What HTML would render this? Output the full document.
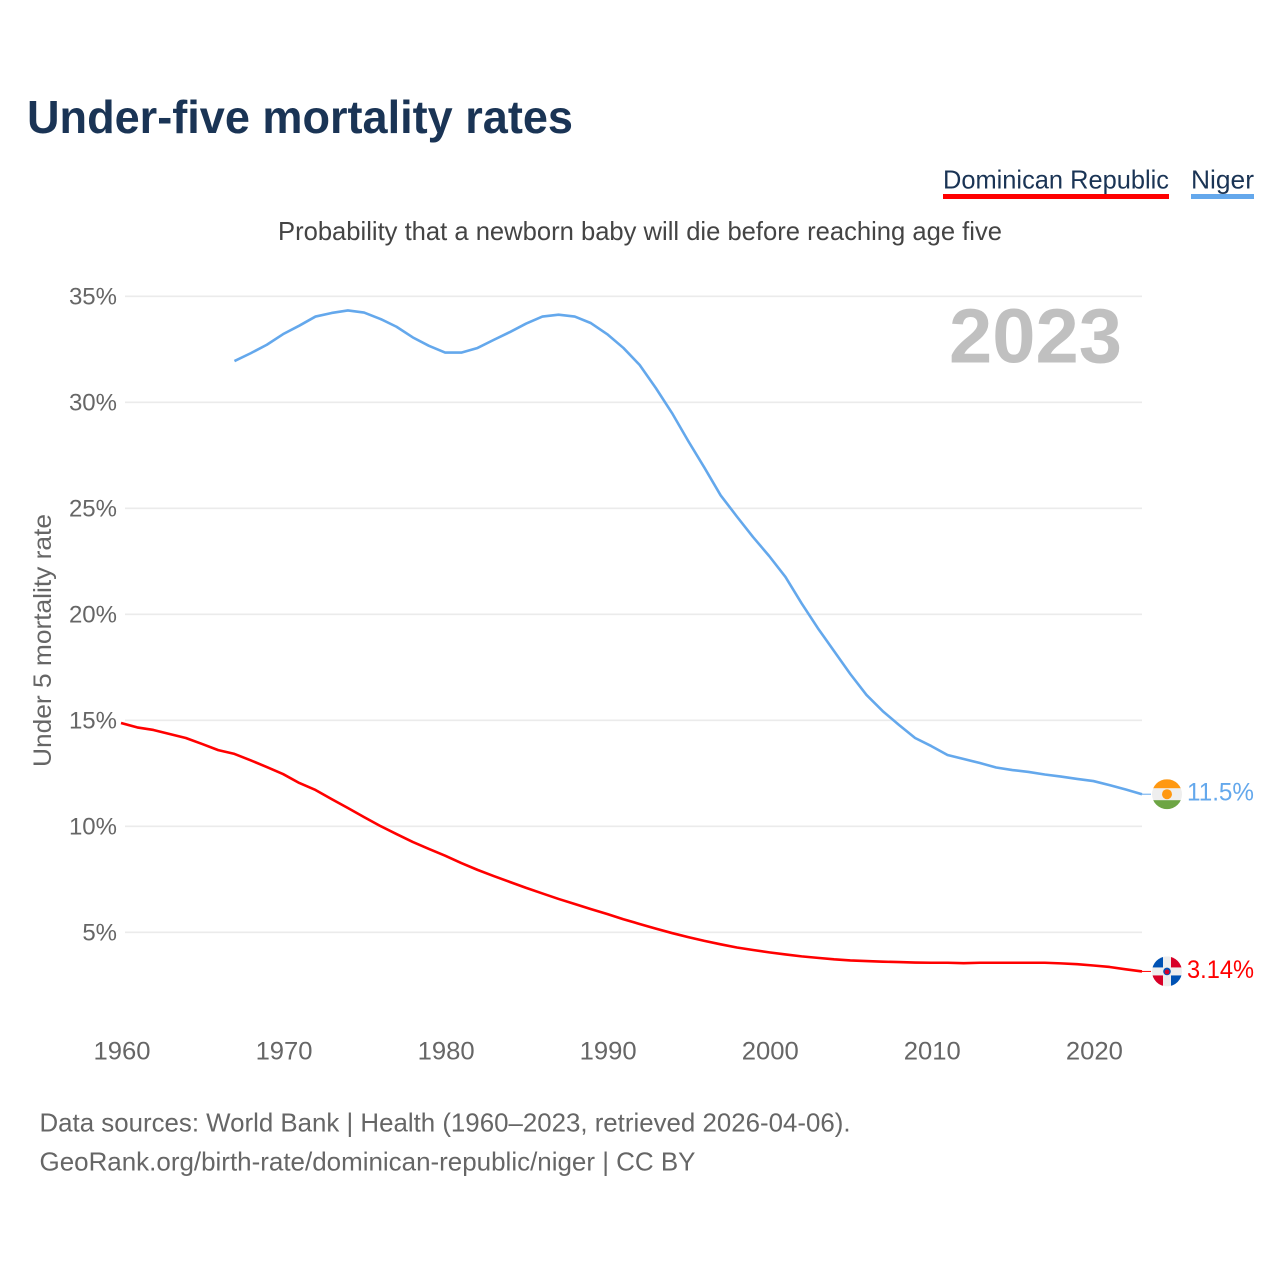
<!DOCTYPE html>
<html lang="en">
<head>
<meta charset="utf-8">
<title>Under-five mortality rates</title>
<style>
  html, body { margin: 0; padding: 0; background: #fff; }
  svg { display: block; font-family: "Liberation Sans", sans-serif; }
</style>
</head>
<body>
<svg id="chart" xmlns="http://www.w3.org/2000/svg" width="1280" height="1280" viewBox="0 0 1280 1280">
  <rect width="1280" height="1280" fill="#fff"/>
  <text x="27" y="133" font-size="46" font-weight="700" fill="#1a3455" textLength="546" lengthAdjust="spacingAndGlyphs">Under-five mortality rates</text>

  <g>
    <text x="943" y="188.5" font-size="26" fill="#1a3455" textLength="226" lengthAdjust="spacingAndGlyphs">Dominican Republic</text>
    <rect x="943" y="194" width="226" height="5" fill="#ff0000"/>
  </g>
  <g>
    <text x="1191" y="188.5" font-size="26" fill="#1a3455" textLength="63" lengthAdjust="spacingAndGlyphs">Niger</text>
    <rect x="1191" y="194" width="63" height="5" fill="#64a8ec"/>
  </g>

  <text x="278" y="240" font-size="26" fill="#444" textLength="724" lengthAdjust="spacingAndGlyphs">Probability that a newborn baby will die before reaching age five</text>
  <text x="949" y="362.5" font-size="77" font-weight="700" fill="#c0c0c0" textLength="173" lengthAdjust="spacingAndGlyphs">2023</text>
  <text transform="translate(51 767) rotate(-90)" font-size="25" fill="#666" textLength="253" lengthAdjust="spacingAndGlyphs">Under 5 mortality rate</text>

  <g id="grid"></g>
  <g id="yticks"></g>
  <g id="xticks"></g>
  <g id="series"></g>
  <g id="ends"></g>

  <text x="39.5" y="1131.5" font-size="26" fill="#666" textLength="811" lengthAdjust="spacingAndGlyphs">Data sources: World Bank | Health (1960–2023, retrieved 2026-04-06).</text>
  <text x="39.5" y="1170.5" font-size="26" fill="#666" textLength="656" lengthAdjust="spacingAndGlyphs">GeoRank.org/birth-rate/dominican-republic/niger | CC BY</text>
</svg>

<script>
const yearStart = 1960;
const yearEnd = 2023;
const yTickValues = [5, 10, 15, 20, 25, 30, 35];
const xTickValues = [1960, 1970, 1980, 1990, 2000, 2010, 2020];

const dominicanYears = [1960,1961,1962,1963,1964,1965,1966,1967,1968,1969,1970,1971,1972,1973,1974,1975,1976,1977,1978,1979,1980,1981,1982,1983,1984,1985,1986,1987,1988,1989,1990,1991,1992,1993,1994,1995,1996,1997,1998,1999,2000,2001,2002,2003,2004,2005,2006,2007,2008,2009,2010,2011,2012,2013,2014,2015,2016,2017,2018,2019,2020,2021,2022,2023];
const dominicanValues = [14.86,14.65,14.53,14.34,14.15,13.87,13.58,13.40,13.10,12.78,12.45,12.03,11.70,11.27,10.85,10.42,10.00,9.62,9.25,8.92,8.60,8.25,7.93,7.64,7.36,7.08,6.82,6.56,6.32,6.08,5.85,5.60,5.38,5.16,4.95,4.76,4.58,4.42,4.27,4.15,4.04,3.94,3.85,3.78,3.71,3.66,3.63,3.60,3.58,3.56,3.55,3.55,3.53,3.55,3.55,3.55,3.55,3.55,3.52,3.48,3.42,3.35,3.24,3.14];

const nigerYears = [1967,1968,1969,1970,1971,1972,1973,1974,1975,1976,1977,1978,1979,1980,1981,1982,1983,1984,1985,1986,1987,1988,1989,1990,1991,1992,1993,1994,1995,1996,1997,1998,1999,2000,2001,2002,2003,2004,2005,2006,2007,2008,2009,2010,2011,2012,2013,2014,2015,2016,2017,2018,2019,2020,2021,2022,2023];
const nigerValues = [31.93,32.30,32.70,33.20,33.60,34.03,34.20,34.32,34.22,33.92,33.55,33.05,32.65,32.33,32.33,32.55,32.93,33.30,33.70,34.03,34.12,34.03,33.72,33.20,32.55,31.75,30.66,29.48,28.16,26.90,25.60,24.60,23.63,22.73,21.75,20.50,19.33,18.25,17.17,16.18,15.42,14.77,14.15,13.77,13.35,13.16,12.97,12.76,12.64,12.55,12.43,12.33,12.22,12.12,11.93,11.72,11.50];

const dominicanLabel = "3.14%";
const nigerLabel = "11.5%";

const NS = "http://www.w3.org/2000/svg";
function xScale(year) { return 121 + (year - yearStart) * (1142 - 121) / (yearEnd - yearStart); }
function yScale(value) { return 296 + (35 - value) * 21.2; }

function make(tag, attrs, parent, text) {
  const el = document.createElementNS(NS, tag);
  for (const k in attrs) el.setAttribute(k, attrs[k]);
  if (text !== undefined) el.textContent = text;
  parent.appendChild(el);
  return el;
}

const gridG = document.getElementById("grid");
const yG = document.getElementById("yticks");
const xG = document.getElementById("xticks");
const seriesG = document.getElementById("series");
const endsG = document.getElementById("ends");

yTickValues.forEach(function (v) {
  const line = make("line", { x1: 125, x2: 1142, y1: yScale(v) + 0.3, y2: yScale(v) + 0.3, stroke: "#ebebeb", "stroke-width": 1.6 }, gridG);
  
  
  const label = make("text", { x: 117, y: yScale(v) + 8.5, "text-anchor": "end", "font-size": 24, fill: "#666" }, yG, v + "%");
  
  
});

xTickValues.forEach(function (yr) {
  const label = make("text", { x: xScale(yr) + 1, y: 1059.5, "text-anchor": "middle", "font-size": 25, fill: "#666", textLength: 57, lengthAdjust: "spacingAndGlyphs" }, xG, String(yr));
  
  
});

function pathFor(years, values) {
  return years.map(function (yr, i) {
    return (i ? "L" : "M") + xScale(yr).toFixed(2) + " " + yScale(values[i]).toFixed(2);
  }).join(" ");
}

const nigerLine = make("path", { d: pathFor(nigerYears, nigerValues), fill: "none", stroke: "#64a8ec", "stroke-width": 2.6, "stroke-linejoin": "round" }, seriesG);



const dominicanLine = make("path", { d: pathFor(dominicanYears, dominicanValues), fill: "none", stroke: "#ff0000", "stroke-width": 2.6, "stroke-linejoin": "round" }, seriesG);



const defs = make("defs", {}, endsG);
const clipPathEl = make("clipPath", { id: "flag-clip" }, defs);
make("circle", { cx: 0, cy: 0, r: 15 }, clipPathEl);

function endMarker(yVal, color, labelText) {
  const cy = yScale(yVal);
  const connector = make("line", { x1: 1142, x2: 1151, y1: cy, y2: cy, stroke: color, "stroke-width": 1 }, endsG);
  
  
  const label = make("text", { x: 1187, y: cy + 6.5, "font-size": 25, fill: color, textLength: 67, lengthAdjust: "spacingAndGlyphs" }, endsG, labelText);
  
  
  return make("g", { transform: "translate(1167 " + cy + ")", "clip-path": "url(#flag-clip)" }, endsG);
}

const nigerFlag = endMarker(nigerValues[nigerValues.length - 1], "#64a8ec", nigerLabel);


make("rect", { x: -15, y: -15, width: 30, height: 30, fill: "#eeeeee" }, nigerFlag);
make("rect", { x: -15, y: -15, width: 30, height: 9, fill: "#ff9811" }, nigerFlag);
make("rect", { x: -15, y: 6, width: 30, height: 9, fill: "#6da544" }, nigerFlag);
make("circle", { cx: 0, cy: 0, r: 5, fill: "#ff9811" }, nigerFlag);

const dominicanFlag = endMarker(dominicanValues[dominicanValues.length - 1], "#ff0000", dominicanLabel);


make("rect", { x: -15, y: -15, width: 30, height: 30, fill: "#eeeeee" }, dominicanFlag);
make("rect", { x: -15, y: -15, width: 11, height: 11, fill: "#0052b4" }, dominicanFlag);
make("rect", { x: 4, y: -15, width: 11, height: 11, fill: "#d80027" }, dominicanFlag);
make("rect", { x: -15, y: 4, width: 11, height: 11, fill: "#d80027" }, dominicanFlag);
make("rect", { x: 4, y: 4, width: 11, height: 11, fill: "#0052b4" }, dominicanFlag);
make("circle", { cx: 0, cy: 0, r: 3.8, fill: "#0052b4" }, dominicanFlag);
make("circle", { cx: 0, cy: 0.5, r: 2.4, fill: "#d80027" }, dominicanFlag);
</script>
</body>
</html>
